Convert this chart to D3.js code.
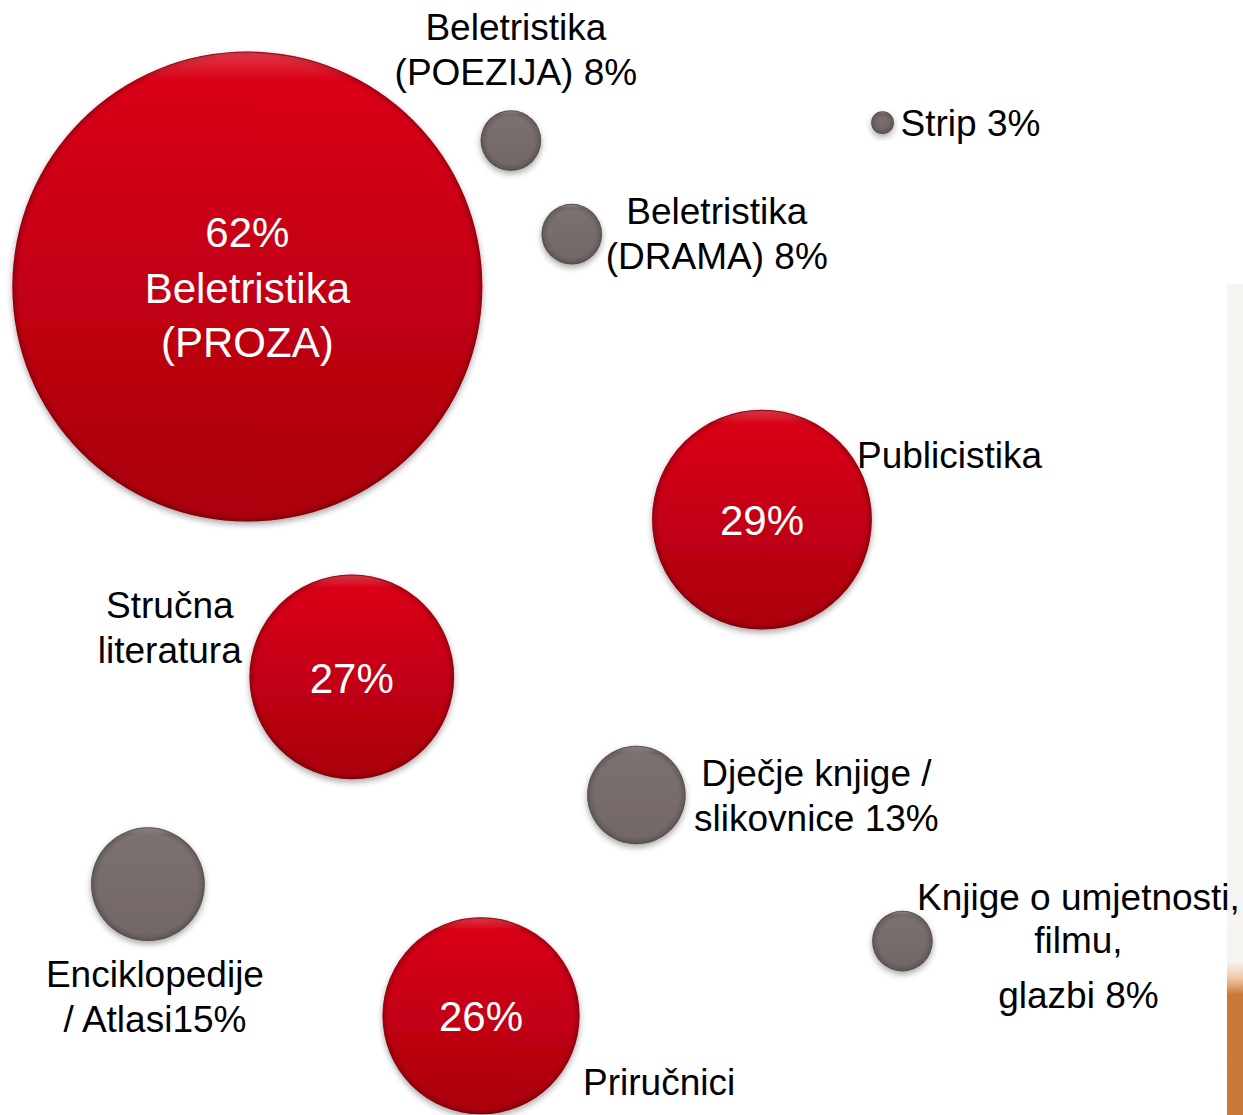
<!DOCTYPE html>
<html>
<head>
<meta charset="utf-8">
<script src="https://cdn.jsdelivr.net/npm/d3@7"></script>
<style>
    body { margin: 0; background: #fff; }
    text { font-family: "Liberation Sans", Arial, sans-serif; }
</style>
</head>
<body>
<div id="chart"></div>
<script>
// chart data
var categories = [
    "Beletristika (PROZA)", "Beletristika (POEZIJA)", "Beletristika (DRAMA)", "Strip",
    "Publicistika", "Stručna literatura", "Dječje knjige / slikovnice",
    "Enciklopedije / Atlasi", "Priručnici", "Knjige o umjetnosti, filmu, glazbi"
];
var shares = [62, 8, 8, 3, 29, 27, 13, 15, 26, 8];
var xValues = [1.99, 4.11, 4.60, 7.10, 6.13, 2.83, 5.12, 1.19, 3.87, 7.26];
var yValues = [7.43, 8.74, 7.90, 8.90, 5.34, 3.93, 2.87, 2.07, 0.89, 1.56];
var highlighted = [true, false, false, false, true, true, false, false, true, false];

// label text lines
var outerLabels = [
    [],
    ["Beletristika", "(POEZIJA) 8%"],
    ["Beletristika", "(DRAMA) 8%"],
    ["Strip 3%"],
    ["Publicistika"],
    ["Stručna", "literatura"],
    ["Dječje knjige /", "slikovnice 13%"],
    ["Enciklopedije", "/ Atlasi15%"],
    ["Priručnici"],
    ["Knjige o umjetnosti,", "filmu,", "glazbi 8%"]
];
var innerLabels = [
    ["62%", "Beletristika", "(PROZA)"], [], [], [], ["29%"], ["27%"], [], [], ["26%"], []
];

(function () {
    const width = 1243, height = 1115;

    // where the outside labels sit, relative to the bubble centre
    var labelLayout = [
        null,
        { dx: 5, dy: -113, anchor: "middle", gaps: [0, 45] },
        { dx: 145, dy: -23, anchor: "middle", gaps: [0, 45] },
        { dx: 18, dy: 0, anchor: "start", gaps: [0] },
        { dx: 95, dy: -65, anchor: "start", gaps: [0] },
        { dx: -182, dy: -72, anchor: "middle", gaps: [0, 45] },
        { dx: 180, dy: -22, anchor: "middle", gaps: [0, 45] },
        { dx: 7, dy: 90, anchor: "middle", gaps: [0, 45] },
        { dx: 102, dy: 66, anchor: "start", gaps: [0] },
        { dx: 176, dy: -44, anchor: "middle", gaps: [0, 43, 55] }
    ];

    var x = d3.scaleLinear().domain([0, 10]).range([0, width]);
    var y = d3.scaleLinear().domain([0, 10]).range([height, 0]);
    var r = d3.scaleLinear().domain([0, 62]).range([0, 235]);

    var svg = d3.select("#chart").append("svg")
        .attr("width", width)
        .attr("height", height);

    var defs = svg.append("defs");

    var redGrad = defs.append("linearGradient").attr("id", "redFill")
        .attr("x1", 0).attr("y1", 0).attr("x2", 0).attr("y2", 1);
    redGrad.append("stop").attr("offset", "0%").attr("stop-color", "#dc0617");
    redGrad.append("stop").attr("offset", "100%").attr("stop-color", "#aa040e");

    var grayGrad = defs.append("linearGradient").attr("id", "grayFill")
        .attr("x1", 0).attr("y1", 0).attr("x2", 0).attr("y2", 1);
    grayGrad.append("stop").attr("offset", "0%").attr("stop-color", "#7c7270");
    grayGrad.append("stop").attr("offset", "100%").attr("stop-color", "#716765");

    var shine = defs.append("linearGradient").attr("id", "shine")
        .attr("x1", 0).attr("y1", 0).attr("x2", 0).attr("y2", 1);
    shine.append("stop").attr("offset", "0%").attr("stop-color", "#fff").attr("stop-opacity", 0.22);
    shine.append("stop").attr("offset", "6%").attr("stop-color", "#fff").attr("stop-opacity", 0);
    shine.append("stop").attr("offset", "100%").attr("stop-color", "#fff").attr("stop-opacity", 0);

    var shadow = defs.append("filter").attr("id", "shadow")
        .attr("x", "-20%").attr("y", "-20%").attr("width", "140%").attr("height", "150%");
    shadow.append("feDropShadow")
        .attr("dx", 0).attr("dy", 3).attr("stdDeviation", 3)
        .attr("flood-color", "#000").attr("flood-opacity", 0.35);

    // cropped picture strip at the right edge
    var stripGrad = defs.append("linearGradient").attr("id", "stripFill")
        .attr("x1", 0).attr("y1", 0).attr("x2", 0).attr("y2", 1);
    stripGrad.append("stop").attr("offset", "0%").attr("stop-color", "#f5f5f2");
    stripGrad.append("stop").attr("offset", "81.5%").attr("stop-color", "#f6f4f0");
    stripGrad.append("stop").attr("offset", "83.5%").attr("stop-color", "#f0c9a6");
    stripGrad.append("stop").attr("offset", "85.5%").attr("stop-color", "#c9793a");
    stripGrad.append("stop").attr("offset", "100%").attr("stop-color", "#c77a3c");
    svg.append("rect")
        .attr("x", 1227).attr("y", 284)
        .attr("width", 16).attr("height", height - 284)
        .attr("fill", "url(#stripFill)");

    var data = categories.map(function (c, i) {
        return {
            id: i, name: c, value: shares[i], x: xValues[i], y: yValues[i],
            hot: highlighted[i], outer: outerLabels[i], inner: innerLabels[i], layout: labelLayout[i]
        };
    });

    // thin darker rim for every bubble, same width whatever the radius
    data.forEach(function (d) {
        var rad = r(d.value);
        var edge = Math.max(0, 1 - 7 / rad);
        var g = defs.append("radialGradient").attr("id", "bevel" + d.id)
            .attr("cx", "50%").attr("cy", "50%").attr("r", "50%");
        g.append("stop").attr("offset", 0).attr("stop-color", "#000").attr("stop-opacity", 0);
        g.append("stop").attr("offset", edge).attr("stop-color", "#000").attr("stop-opacity", 0);
        g.append("stop").attr("offset", 1 - 2 / rad).attr("stop-color", "#000").attr("stop-opacity", 0.14);
        g.append("stop").attr("offset", 1).attr("stop-color", "#000").attr("stop-opacity", 0.3);
    });

    var bubbles = svg.selectAll("g.bubble")
        .data(data)
        .enter()
        .append("g")
        .attr("class", "bubble")
        .attr("transform", function (d) { return "translate(" + x(d.x) + "," + y(d.y) + ")"; });

    bubbles.append("circle")
        .attr("r", function (d) { return r(d.value); })
        .attr("fill", function (d) { return d.hot ? "url(#redFill)" : "url(#grayFill)"; })
        .attr("filter", "url(#shadow)");

    bubbles.append("circle")
        .attr("r", function (d) { return r(d.value); })
        .attr("fill", function (d) { return "url(#bevel" + d.id + ")"; });

    bubbles.append("circle")
        .attr("r", function (d) { return r(d.value) - 1; })
        .attr("fill", "url(#shine)");

    // white labels inside the red bubbles
    bubbles.each(function (d) {
        var g = d3.select(this);
        var n = d.inner.length;
        var gaps = n === 3 ? [-56, 0, 54] : [0];
        d.inner.forEach(function (line, k) {
            g.append("text")
                .attr("x", 0)
                .attr("y", gaps[k] + (n === 3 ? 2 : 1))
                .attr("dy", "0.35em")
                .attr("text-anchor", "middle")
                .attr("fill", "#fff")
                .style("font-size", "42px")
                .text(line);
        });
    });

    // black labels next to the bubbles
    bubbles.each(function (d) {
        if (!d.layout) return;
        var g = d3.select(this);
        var offset = 0;
        d.outer.forEach(function (line, k) {
            offset += d.layout.gaps[k];
            g.append("text")
                .attr("x", d.layout.dx)
                .attr("y", d.layout.dy + offset)
                .attr("dy", "0.35em")
                .attr("text-anchor", d.layout.anchor)
                .attr("fill", "#000")
                .style("font-size", "37px")
                .text(line);
        });
    });
}());
</script>
</body>
</html>
